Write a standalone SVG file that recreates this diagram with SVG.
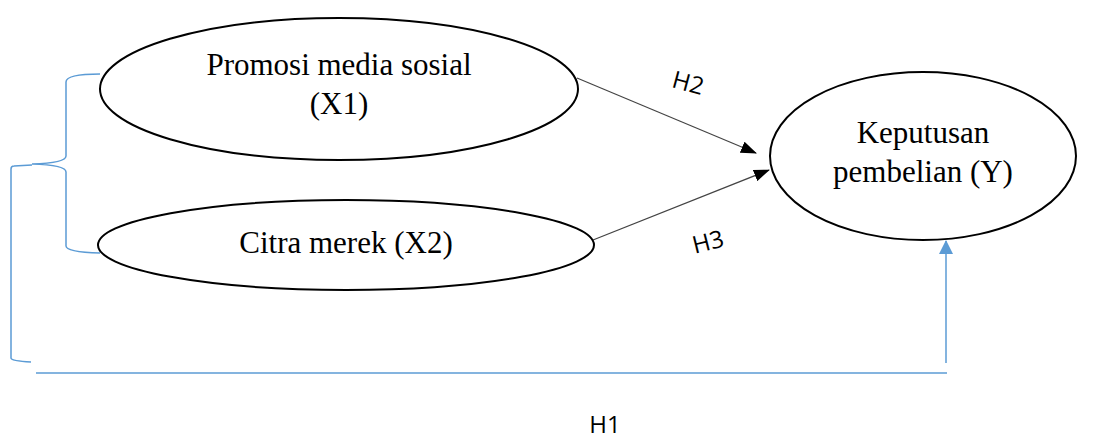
<svg xmlns="http://www.w3.org/2000/svg" width="1096" height="442" viewBox="0 0 1096 442">
<style>
.node{fill:#fff;stroke:#000;stroke-width:2}
.t{font-family:"Liberation Serif",serif;font-size:31px;fill:#000;text-anchor:middle}
.h{font-family:"Open Sans","DejaVu Sans",sans-serif;font-size:24px;fill:#000;text-anchor:middle}
.blue{fill:none;stroke:#5b9bd5;stroke-width:1.5}
.blk{fill:none;stroke:#444;stroke-width:1.2}
</style>
<defs>
<marker id="ab" markerWidth="16" markerHeight="12" refX="15" refY="6" orient="auto" markerUnits="userSpaceOnUse"><path d="M0,0 L16,6 L0,12 Z" fill="#000"/></marker>
<marker id="bb" markerWidth="14" markerHeight="14" refX="13" refY="7" orient="auto" markerUnits="userSpaceOnUse"><path d="M0,0 L14,7 L0,14 Z" fill="#5b9bd5"/></marker>
</defs>
<g id="connectors">
<path class="blue" d="M100,74 Q66,74 66,82 L66,156 Q66,163 32,164 Q66,165 66,172 L66,246 Q66,252 100,253"/>
<path class="blue" d="M32,165 L14,166 Q11,166 11,169 L11,358 Q11,361 31,362"/>
<line class="blue" x1="36" y1="373" x2="947" y2="373"/>
<line class="blue" x1="946" y1="363" x2="946" y2="241" marker-end="url(#bb)"/>
<line class="blk" x1="577" y1="78" x2="756" y2="153" marker-end="url(#ab)"/>
<line class="blk" x1="593" y1="240" x2="769" y2="170" marker-end="url(#ab)"/>
<text class="h" transform="translate(686,91) rotate(15)">H2</text>
<text class="h" transform="translate(710,250) rotate(-14)">H3</text>
<text class="h" x="605" y="433">H1</text>
</g>
<g id="x1">
<ellipse class="node" cx="339" cy="89" rx="239" ry="71"/>
<text class="t" x="339" y="75">Promosi media sosial</text>
<text class="t" x="339" y="114">(X1)</text>
</g>
<g id="x2">
<ellipse class="node" cx="346" cy="245" rx="248" ry="45"/>
<text class="t" x="346" y="253">Citra merek (X2)</text>
</g>
<g id="y">
<ellipse class="node" cx="923" cy="156" rx="153" ry="84"/>
<text class="t" x="923" y="143">Keputusan</text>
<text class="t" x="923" y="182">pembelian (Y)</text>
</g>
</svg>
